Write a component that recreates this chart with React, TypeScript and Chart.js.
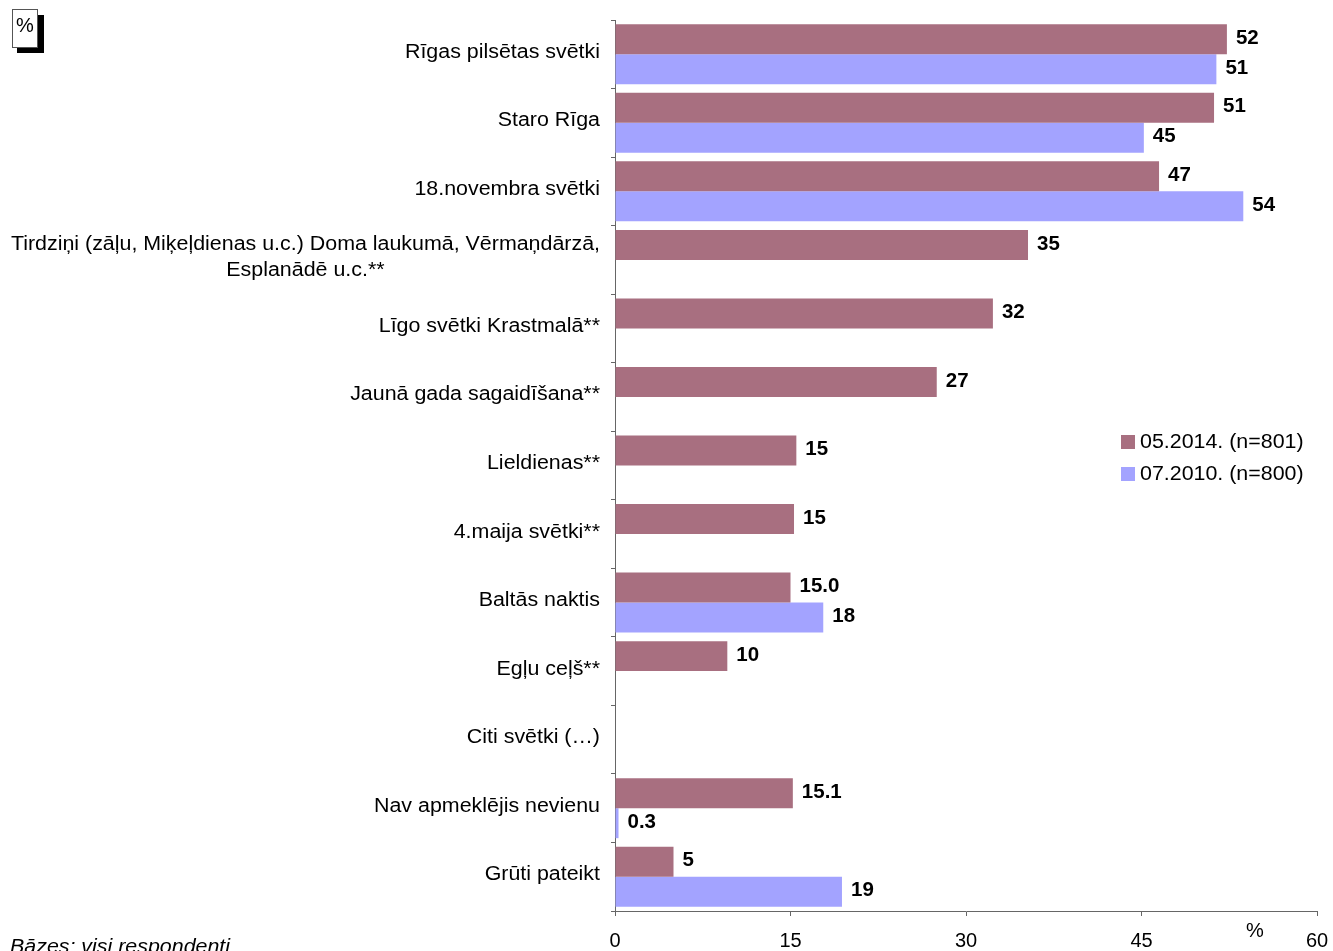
import React, { useEffect, useRef } from "react";
import { Chart, registerables } from "chart.js";

Chart.register(...registerables);

const categories: (string | string[])[] = [
  "Rīgas pilsētas svētki",
  "Staro Rīga",
  "18.novembra svētki",
  ["Tirdziņi (zāļu, Miķeļdienas u.c.) Doma laukumā, Vērmaņdārzā,", "Esplanādē u.c.**"],
  "Līgo svētki Krastmalā**",
  "Jaunā gada sagaidīšana**",
  "Lieldienas**",
  "4.maija svētki**",
  "Baltās naktis",
  "Egļu ceļš**",
  "Citi svētki (…)",
  "Nav apmeklējis nevienu",
  "Grūti pateikt",
];

const series2014Name = "05.2014. (n=801)";
const series2010Name = "07.2010. (n=800)";

const values2014: (number | null)[] = [52.3, 51.2, 46.5, 35.3, 32.3, 27.5, 15.5, 15.3, 15.0, 9.6, null, 15.2, 5.0];
const values2010: (number | null)[] = [51.4, 45.2, 53.7, null, null, null, null, null, 17.8, null, null, 0.3, 19.4];

const labels2014: string[] = ["52", "51", "47", "35", "32", "27", "15", "15", "15.0", "10", "", "15.1", "5"];
const labels2010: string[] = ["51", "45", "54", "", "", "", "", "", "18", "", "", "0.3", "19"];

const xTicks: number[] = [0, 15, 30, 45, 60];
const xTickLabels: string[] = ["0", "15", "30", "45", "60"];

const color2014 = "#A86F80";
const color2010 = "#A3A3FF";
const FONT = "'Liberation Sans', Arial, sans-serif";
const STRETCH = 1.07;

function stretchText(
  ctx: CanvasRenderingContext2D,
  text: string,
  x: number,
  y: number,
  align: CanvasTextAlign,
  sx: number
) {
  ctx.save();
  ctx.translate(x, y);
  ctx.scale(sx, 1);
  ctx.textAlign = align;
  ctx.fillText(text, 0, 0);
  ctx.restore();
}

const overlayPlugin = {
  id: "overlay",
  afterDraw(chart: any) {
    const ctx = chart.ctx as CanvasRenderingContext2D;
    const yScale = chart.scales.y;
    const xScale = chart.scales.x;
    const area = chart.chartArea;
    ctx.save();

    // category labels
    ctx.fillStyle = "#000";
    ctx.font = `20px ${FONT}`;
    ctx.textBaseline = "middle";
    categories.forEach((cat, i) => {
      const y = yScale.getPixelForValue(i);
      const lines = Array.isArray(cat) ? cat : [cat];
      if (lines.length === 1) {
        stretchText(ctx, lines[0], area.left - 15, y - 2, "right", STRETCH);
      } else {
        const widths = lines.map((l) => ctx.measureText(l).width * STRETCH);
        const maxW = Math.max(...widths);
        const cx = area.left - 15 - maxW / 2;
        lines.forEach((l, k) => {
          stretchText(ctx, l, cx, y - 2 + (k - (lines.length - 1) / 2) * 26, "center", STRETCH);
        });
      }
    });

    // value labels
    ctx.font = `bold 20.5px ${FONT}`;
    ctx.textAlign = "left";
    const labelSets = [labels2014, labels2010];
    [0, 1].forEach((di) => {
      const meta = chart.getDatasetMeta(di);
      meta.data.forEach((bar: any, i: number) => {
        const txt = labelSets[di][i];
        if (!txt) return;
        ctx.fillText(txt, bar.x + 9, bar.y - 1);
      });
    });

    // x tick labels
    ctx.font = `20px ${FONT}`;
    ctx.textBaseline = "alphabetic";
    xTicks.forEach((v, k) => {
      stretchText(ctx, xTickLabels[k], xScale.getPixelForValue(v), 947, "center", 1);
    });

    // legend
    const legendItems = [
      { name: series2014Name, color: color2014 },
      { name: series2010Name, color: color2010 },
    ];
    ctx.font = `20px ${FONT}`;
    ctx.textBaseline = "middle";
    legendItems.forEach((it, k) => {
      const cy = 442 + k * 32;
      ctx.fillStyle = it.color;
      ctx.fillRect(1121, cy - 7, 14, 14);
      ctx.fillStyle = "#000";
      stretchText(ctx, it.name, 1140, cy, "left", STRETCH);
    });

    // % box at top-left
    ctx.fillStyle = "#000";
    ctx.fillRect(17, 15, 27, 38);
    ctx.fillStyle = "#fff";
    ctx.fillRect(12, 9, 25, 38);
    ctx.strokeStyle = "#555";
    ctx.lineWidth = 1;
    ctx.strokeRect(12.5, 9.5, 25, 38);
    ctx.fillStyle = "#000";
    ctx.font = `20px ${FONT}`;
    ctx.textBaseline = "middle";
    stretchText(ctx, "%", 25, 26, "center", 1);

    // % near x axis
    ctx.textBaseline = "alphabetic";
    stretchText(ctx, "%", 1255, 937, "center", 1);

    // base note
    ctx.font = `italic 20px ${FONT}`;
    stretchText(ctx, "Bāzes: visi respondenti", 10, 953, "left", STRETCH);

    ctx.restore();
  },
};

export default function App() {
  const ref = useRef<HTMLCanvasElement | null>(null);
  useEffect(() => {
    if (!ref.current) return;
    const chart = new Chart(ref.current, {
      type: "bar",
      data: {
        labels: categories.map((c) => (Array.isArray(c) ? c.join(" ") : c)),
        datasets: [
          { label: series2014Name, data: values2014, backgroundColor: color2014, borderWidth: 0 },
          { label: series2010Name, data: values2010, backgroundColor: color2010, borderWidth: 0 },
        ],
      },
      options: {
        indexAxis: "y",
        responsive: false,
        animation: false,
        layout: { padding: { left: 0, right: 16, top: 20, bottom: 0 } },
        datasets: { bar: { categoryPercentage: 0.875, barPercentage: 1.0 } },
        plugins: { legend: { display: false }, tooltip: { enabled: false } },
        scales: {
          x: {
            min: 0,
            max: 60,
            afterBuildTicks: (scale: any) => {
              scale.ticks = xTicks.map((v) => ({ value: v }));
            },
            ticks: { display: false },
            grid: { drawOnChartArea: false, tickLength: 5, color: "#666" },
            border: { color: "#666", width: 1 },
            afterFit: (scale: any) => {
              scale.height = 40;
            },
          },
          y: {
            ticks: { display: false },
            grid: { drawOnChartArea: false, tickLength: 4, color: "#666", offset: true },
            border: { color: "#666", width: 1 },
            afterFit: (scale: any) => {
              scale.width = 615;
            },
          },
        },
      },
      plugins: [overlayPlugin],
    });
    return () => chart.destroy();
  }, []);
  return (
    <div style={{ position: "absolute", left: 0, top: 0, width: 1333, height: 951 }}>
      <canvas ref={ref} width={1333} height={951} />
    </div>
  );
}
